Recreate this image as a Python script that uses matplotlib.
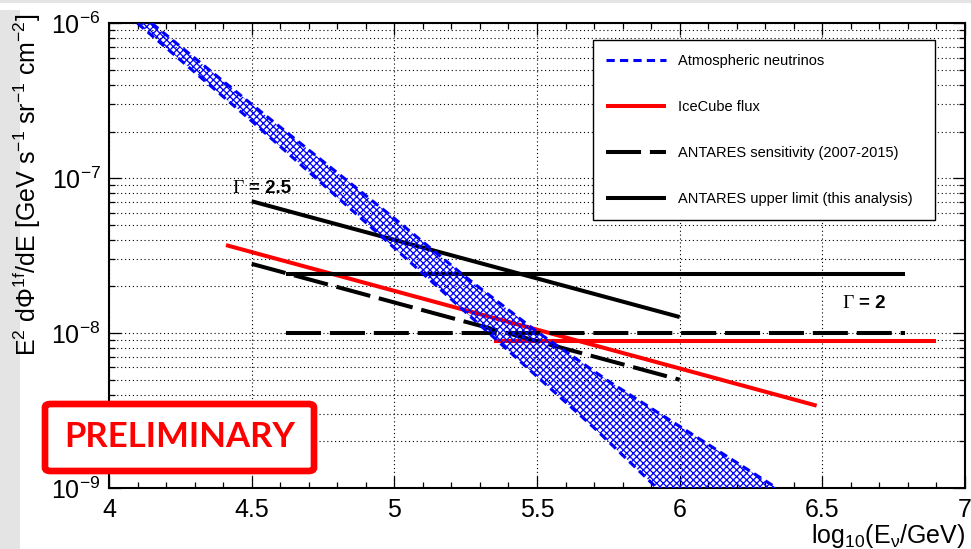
import numpy as np
import matplotlib
matplotlib.use("Agg")
import matplotlib.pyplot as plt
from matplotlib.ticker import MultipleLocator, LogLocator, FormatStrFormatter
from matplotlib.patches import FancyBboxPatch, Rectangle

plt.rcParams['font.family'] = ['Liberation Sans', 'DejaVu Sans']
plt.rcParams['mathtext.default'] = 'regular'
plt.rcParams['hatch.linewidth'] = 0.9

# atmospheric neutrino band (log10 E, E^2 flux)
atm_up_x = [4.15, 4.5, 5.0, 5.25, 5.5, 5.75, 6.0, 6.34]
atm_up_y = [1.0e-6, 3.0e-7, 5.5e-8, 2.3e-8, 1.02e-8, 4.9e-9, 2.5e-9, 1.0e-9]
atm_lo_x = [4.10, 4.5, 5.0, 5.5, 5.7, 5.92]
atm_lo_y = [1.0e-6, 2.34e-7, 3.55e-8, 5.25e-9, 2.45e-9, 1.0e-9]

# IceCube flux
ic25_x = [4.41, 6.48]
ic25_y = [3.7e-8, 3.4e-9]
ic2_x = [5.35, 6.9]
ic2_y = [8.9e-9, 8.9e-9]

# ANTARES sensitivity (2007-2015)
sens25_x = [4.5, 6.0]
sens25_y = [2.8e-8, 5.0e-9]
sens2_x = [4.62, 6.79]
sens2_y = [1.0e-8, 1.0e-8]

# ANTARES upper limit (this analysis)
ul25_x = [4.5, 6.0]
ul25_y = [7.1e-8, 1.27e-8]
ul2_x = [4.62, 6.79]
ul2_y = [2.4e-8, 2.4e-8]

fig = plt.figure(figsize=(9.71, 5.49), dpi=100)
# grey frame of the slide
fig.patches.append(Rectangle((0, 0), 20/971, 539/549, transform=fig.transFigure,
                             facecolor='#e4e4e4', edgecolor='none', zorder=-1))
fig.patches.append(Rectangle((0, 546/549), 1, 3/549, transform=fig.transFigure,
                             facecolor='#e4e4e4', edgecolor='none', zorder=-1))

ax = fig.add_axes([109/971, 61/549, 856/971, 464.7/549])
ax.set_yscale('log')
ax.set_xlim(4, 7)
ax.set_ylim(1e-9, 1e-6)

lw = 2.9
ax.plot(ic25_x, ic25_y, color='red', lw=lw, solid_capstyle='butt', zorder=2)
ax.plot(ic2_x, ic2_y, color='red', lw=lw, solid_capstyle='butt', zorder=2,
        label='IceCube flux')
dash = (8.7, 2.2)
ax.plot(sens25_x, sens25_y, color='black', lw=lw, dashes=dash, zorder=2)
ax.plot(sens2_x, sens2_y, color='black', lw=lw, dashes=dash, zorder=2,
        label='ANTARES sensitivity (2007-2015)')
ax.plot(ul25_x, ul25_y, color='black', lw=lw, solid_capstyle='butt', zorder=2)
ax.plot(ul2_x, ul2_y, color='black', lw=lw, solid_capstyle='butt', zorder=2,
        label='ANTARES upper limit (this analysis)')

# hatched band
px = list(atm_up_x) + list(atm_lo_x[::-1])
py = list(atm_up_y) + list(atm_lo_y[::-1])
ax.fill(px, py, facecolor='none', edgecolor='#0000ff', hatch='xxxxx', lw=0, zorder=3)
ax.plot(atm_up_x, atm_up_y, color='#0000ff', lw=2.2, dashes=(2.7, 1.7), zorder=3,
        label='Atmospheric neutrinos')
ax.plot(atm_lo_x, atm_lo_y, color='#0000ff', lw=2.2, dashes=(2.7, 1.7), zorder=3)

# spectral index labels
ax.text(4.431, 8.6e-8, 'Γ', family='Liberation Serif', fontsize=14, va='center', ha='left')
ax.text(4.49, 8.6e-8, '= 2.5', fontsize=13.5, fontweight='bold', va='center', ha='left')
ax.text(6.569, 1.56e-8, 'Γ', family='Liberation Serif', fontsize=14, va='center', ha='left')
ax.text(6.628, 1.56e-8, '= 2', fontsize=13.5, fontweight='bold', va='center', ha='left')

# axes styling
ax.xaxis.set_major_locator(MultipleLocator(0.5))
ax.xaxis.set_minor_locator(MultipleLocator(0.1))
ax.xaxis.set_major_formatter(FormatStrFormatter('%g'))
ax.yaxis.set_major_locator(LogLocator(base=10))
ax.yaxis.set_minor_locator(LogLocator(base=10, subs=np.arange(2, 10)))
ax.yaxis.set_minor_formatter(plt.NullFormatter())
ax.tick_params(which='both', direction='in', top=True, right=True, width=0.9)
ax.tick_params(which='major', length=8.6, labelsize=18)
ax.tick_params(which='minor', length=4.3)
ax.tick_params(axis='x', pad=7)
ax.tick_params(axis='y', pad=6)
for s in ax.spines.values():
    s.set_linewidth(1.5)

ax.grid(which='major', axis='both', color='black', lw=0.8, ls=(0, (1, 2.5)))
ax.grid(which='minor', axis='y', color='black', lw=0.8, ls=(0, (1, 2.5)))
ax.set_axisbelow(True)

ax.set_xlabel(r'log$_{10}$(E$_{\nu}$/GeV)', fontsize=18, loc='right', labelpad=0)
ax.set_ylabel(r'E$^{2}$ d$\Phi^{1f}$/dE [GeV s$^{-1}$ sr$^{-1}$ cm$^{-2}$]',
              fontsize=18, loc='top')
ax.yaxis.set_label_coords(-0.077, 1.02)

handles = ax.get_legend_handles_labels()[0]
order = [3, 0, 1, 2]
leg = ax.legend([handles[i] for i in order], [handles[i].get_label() for i in order],
                loc='upper left', bbox_to_anchor=(0.565, 0.964, 0.40, 0.0), mode='expand',
                fontsize=10.5, handlelength=4.1, handletextpad=0.8, borderpad=0.95,
                labelspacing=2.2, fancybox=False, framealpha=1, edgecolor='black',
                borderaxespad=0)
leg.get_frame().set_linewidth(1.0)
leg.set_zorder(5)

# PRELIMINARY stamp
fig.patches.append(FancyBboxPatch((45/971, (549-471)/549), 269/971, 67/549,
                                  boxstyle='round,pad=0,rounding_size=0.006',
                                  transform=fig.transFigure, facecolor='white',
                                  edgecolor='#ff0000', lw=4.8, zorder=10))
fig.text(180/971, (549-437)/549, 'PRELIMINARY', color='#ff0000', fontsize=25,
         fontweight='bold', family='Lato', ha='center', va='center', zorder=11)

fig.savefig('out.png', dpi=100)
